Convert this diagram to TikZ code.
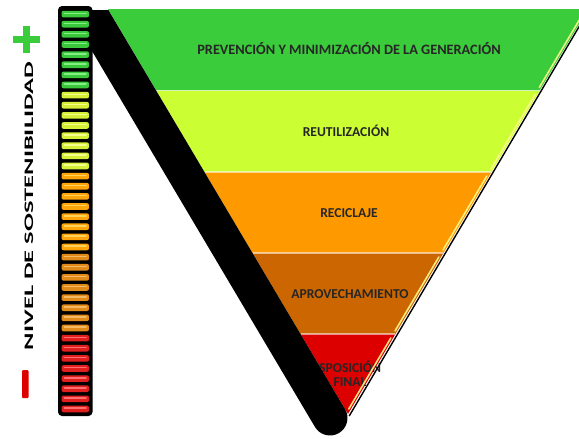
\documentclass[tikz,border=0pt]{standalone}
\usepackage{fontspec}
\setmainfont{Carlito}
\usepackage{graphicx}
\definecolor{bgreen}{RGB}{58,204,58}
\definecolor{byellow}{RGB}{204,255,51}
\definecolor{borange}{RGB}{255,153,0}
\definecolor{bdorange}{RGB}{204,102,0}
\definecolor{bred}{RGB}{221,0,0}
\definecolor{seg0}{RGB}{60,200,60}
\definecolor{hl0}{RGB}{130,240,130}
\definecolor{seg1}{RGB}{214,240,58}
\definecolor{hl1}{RGB}{245,255,140}
\definecolor{seg2}{RGB}{255,165,10}
\definecolor{hl2}{RGB}{255,210,90}
\definecolor{seg3}{RGB}{224,138,26}
\definecolor{hl3}{RGB}{245,185,100}
\definecolor{seg4}{RGB}{224,30,30}
\definecolor{hl4}{RGB}{255,110,110}
\tikzset{
  lbl/.style={font=\fontsize{13.6}{15}\selectfont\bfseries, text=black!85, align=center},
  sep/.style={white, opacity=0.55, line width=1.2pt},
  edgehl/.style={white!55!yellow, line width=1.6pt, line cap=round, opacity=0.9},
}
\begin{document}
\begin{tikzpicture}[x=1pt,y=-1pt]
\useasboundingbox (0,0) rectangle (579,439);
% pyramid bands
\fill[bgreen] (108,9) -- (588,9) -- (539.7,90.5) -- (156.3,90.5) -- cycle;
\fill[byellow] (156.3,90.5) -- (539.7,90.5) -- (491.4,172) -- (204.6,172) -- cycle;
\fill[borange] (204.6,172) -- (491.4,172) -- (443.4,253) -- (252.6,253) -- cycle;
\fill[bdorange] (252.6,253) -- (443.4,253) -- (395.4,334) -- (300.6,334) -- cycle;
\fill[bred] (300.6,334) -- (395.4,334) -- (348,414) -- cycle;
\draw[sep] (156.3,90.5) -- (539.7,90.5);
\draw[sep] (204.6,172) -- (491.4,172);
\draw[sep] (252.6,253) -- (443.4,253);
\draw[sep] (300.6,334) -- (395.4,334);
% labels
\node[lbl, font=\fontsize{14.3}{16}\selectfont\bfseries] (t1) at (349,49) {PREVENCIÓN Y MINIMIZACIÓN DE LA GENERACIÓN};
\node[lbl] (t2) at (346,131) {REUTILIZACIÓN};
\node[lbl] (t3) at (349,213) {RECICLAJE};
\node[lbl] (t4) at (350,294) {APROVECHAMIENTO};
\node[lbl] (t5a) at (344,367) {DISPOSICIÓN};
\node[lbl] (t5b) at (350,382) {FINAL};
% black band
\begin{scope}
\clip (0,10) rectangle (579,439);
\draw[black, line width=35pt, line cap=round] (81.5,-1) -- (330,418);
\end{scope}
% right edge shadow and highlights
\draw[black, line width=1.4pt] (589.5,9) -- (349.2,416);
\foreach \ya/\yb in {9/90.5, 90.5/172, 172/253, 253/334, 334/412}{
  \draw[edgehl] ({588-(\ya+4-9)*0.59259-2.2},{\ya+4}) -- ({588-(\yb-3-9)*0.59259-2.2},{\yb-3});
}
% level bar
\fill[black, rounded corners=4pt] (58,6) rectangle (92.5,416);
\foreach \i in {0,...,39}{
  \pgfmathtruncatemacro\b{\i/8}
  \pgfmathsetmacro\yy{9+\i*10.125}
  \fill[seg\b, rounded corners=2pt] (61.5,\yy+1.8) rectangle (89,\yy+8.4);
  \draw[hl\b, line width=1.6pt, line cap=round] (64.5,\yy+4.3) -- (86,\yy+4.3);
}
% plus / minus
\draw[bgreen, line width=7.5pt] (13,39.5) -- (40,39.5);
\draw[bgreen, line width=7.5pt] (26.5,26) -- (26.5,53);
\fill[bred, rounded corners=1pt] (22,370) rectangle (28.5,398);
% vertical caption
\node[rotate=90] (cap) at (29,206) {\resizebox{288pt}{8.5pt}{\bfseries NIVEL DE SOSTENIBILIDAD}};
\end{tikzpicture}
\end{document}
